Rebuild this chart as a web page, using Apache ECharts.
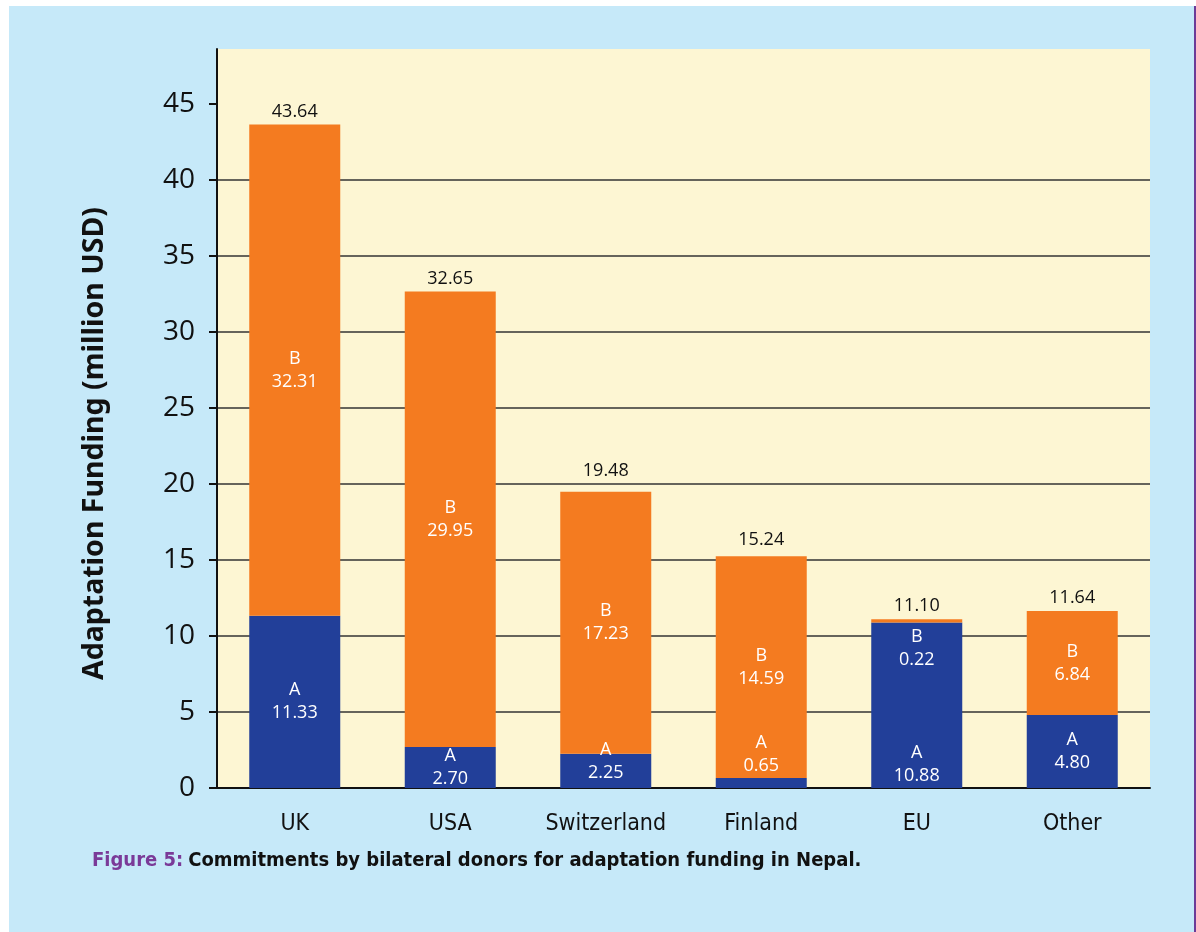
<!DOCTYPE html>
<html>
<head>
<meta charset="utf-8">
<script src="https://cdn.jsdelivr.net/npm/echarts@6/dist/echarts.min.js"></script>
<style>
	html, body { margin: 0; padding: 0; background: #ffffff; }
	#chart {
		position: absolute; left: 9px; top: 6px;
		width: 1185px; height: 926px;
		border-right: 2px solid #6b3b97;
		background: #c6e9f9;
	}
</style>
</head>
<body>
<div id="chart"></div>
<script>
// donors on the x axis
const categories = ['UK', 'USA', 'Switzerland', 'Finland', 'EU', 'Other'];
// segment A (blue) and segment B (orange), million USD
const valuesA = [11.33, 2.70, 2.25, 0.65, 10.88, 4.80];
const valuesB = [32.31, 29.95, 17.23, 14.59, 0.22, 6.84];
// totals printed above the bars
const totals = [43.64, 32.65, 19.48, 15.24, 11.10, 11.64];
// y axis ticks
const yTicks = [0, 5, 10, 15, 20, 25, 30, 35, 40, 45];

const labelFont = 'Open Sans';
const narrowFont = 'DejaVu Sans Condensed';

// label tweaks for small segments
const labelA = [{}, {}, { offset: [0, -10] }, { position: 'top', distance: 1 }, { position: 'insideBottom', distance: 1 }, {}];
const labelB = [{}, {}, {}, {}, { position: 'bottom', distance: 3 }, {}];
const labelTotal = [{}, {}, { distance: 12 }, { distance: 7 }, {}, {}];

const chart = echarts.init(document.getElementById('chart'));

const option = {
	animation: false,
	title: {
		left: 78,
		top: 840,
		text: '{a|Figure 5:} {b|Commitments by bilateral donors for adaptation funding in Nepal.}',
		textStyle: {
			rich: {
				a: { color: '#7a3a98', fontFamily: narrowFont, fontWeight: 'bold', fontSize: 20 },
				b: { color: '#111111', fontFamily: narrowFont, fontWeight: 'bold', fontSize: 20 }
			}
		}
	},
	grid: {
		left: 208,
		right: 44,
		top: 43,
		bottom: 144,
		show: true,
		backgroundColor: '#fdf6d3',
		borderWidth: 0
	},
	xAxis: {
		type: 'category',
		data: categories,
		axisLine: { lineStyle: { color: '#111', width: 2 } },
		axisTick: { show: false },
		axisLabel: {
			interval: 0,
			color: '#111',
			fontFamily: narrowFont,
			fontSize: 23,
			margin: 25
		}
	},
	yAxis: {
		type: 'value',
		min: 0,
		max: 48.6,
		interval: 5,
		name: 'Adaptation Funding (million USD)',
		nameLocation: 'middle',
		nameGap: 108,
		nameTextStyle: {
			color: '#111',
			fontFamily: 'Noto Sans',
			fontWeight: 'bold',
			fontSize: 28.5,
			padding: [0, 50, 0, 0]
		},
		axisLine: { show: true, lineStyle: { color: '#111', width: 2 } },
		axisTick: { show: true, length: 8, customValues: yTicks, lineStyle: { color: '#111', width: 2 } },
		axisLabel: {
			color: '#111',
			fontFamily: labelFont,
			fontSize: 28,
			margin: 22,
			customValues: yTicks
		},
		splitLine: { show: true, showMaxLine: false, lineStyle: { color: '#333', width: 1.5 } }
	},
	series: [
		{
			name: 'A',
			type: 'bar',
			stack: 'donor',
			barWidth: 91,
			itemStyle: { color: '#223f99' },
			label: {
				show: true,
				position: 'inside',
				color: '#ffffff',
				fontFamily: labelFont,
				fontSize: 18,
				lineHeight: 23,
				formatter: p => 'A\n' + p.value.toFixed(2)
			},
			data: valuesA.map((v, i) => ({ value: v, label: labelA[i] }))
		},
		{
			name: 'B',
			type: 'bar',
			stack: 'donor',
			barWidth: 91,
			itemStyle: { color: '#f47b20' },
			label: {
				show: true,
				position: 'inside',
				color: '#ffffff',
				fontFamily: labelFont,
				fontSize: 18,
				lineHeight: 23,
				formatter: p => 'B\n' + p.value.toFixed(2)
			},
			data: valuesB.map((v, i) => ({ value: v, label: labelB[i] }))
		},
		{
			name: 'Total',
			type: 'bar',
			barWidth: 91,
			barGap: '-100%',
			itemStyle: { color: 'rgba(0,0,0,0)' },
			label: {
				show: true,
				position: 'top',
				distance: 4,
				color: '#111',
				fontFamily: labelFont,
				fontSize: 18,
				formatter: p => p.value.toFixed(2)
			},
			data: totals.map((v, i) => ({ value: v, label: labelTotal[i] }))
		}
	]
};

chart.setOption(option);

window.addEventListener('resize', () => {
	chart.resize();
});
</script>
</body>
</html>
